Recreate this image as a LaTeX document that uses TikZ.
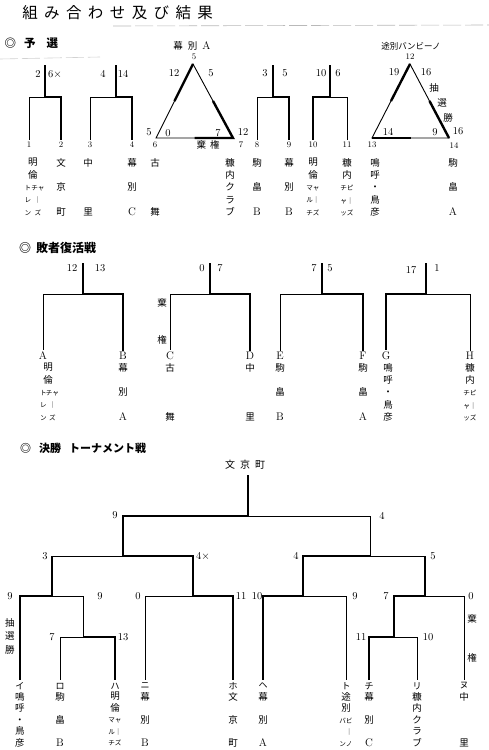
\documentclass[tikz,border=0pt]{standalone}
\usepackage{fontspec}
\usepackage{tikz}
\usetikzlibrary{calc}
\newfontfamily\jp{Noto Sans CJK JP}
\newcommand\kanafont{\jp\fontsize{6.6}{7}\selectfont}
\newcommand\kk[3][6.5pt]{\makebox[#1]{\kanafont #2}\makebox[#1]{\kanafont #3}}
\newcommand\lt[1]{{\rmfamily\fontsize{11}{12}\selectfont #1}}

\begin{document}
\begin{tikzpicture}[x=1pt, y=-1pt,
    lose/.style={line width=0.9pt},
    win/.style={line width=2.4pt},
    rule/.style={gray!55, line width=0.6pt, dash pattern=on 18pt off 4pt},
    titlechar/.style={inner sep=0pt, font=\jp\fontsize{15.5}{16}\selectfont},
    head/.style={inner sep=0pt, anchor=west, font=\jp\bfseries\fontsize{#1}{14}\selectfont},
    head/.default=11.5,
    score/.style={inner sep=0pt, font=\fontsize{10.5}{12}\selectfont},
    seed/.style={inner sep=2pt, font=\fontsize{8.5}{10}\selectfont},
    letter/.style={inner sep=1.5pt, font=\fontsize{11}{12}\selectfont},
    kana/.style={inner sep=2.5pt, font=\jp\fontsize{9}{10}\selectfont},
    jlabel/.style={inner sep=0pt, font=\jp\fontsize{9.5}{11}\selectfont},
    team/.style={inner sep=0pt, anchor=north, align=center, font=\jp\fontsize{9.5}{#1}\selectfont},
    team/.default=12.4
]
\fill[white] (0,0) rectangle (489,750);
\useasboundingbox (0,0) rectangle (489,750);

% Title
\foreach \ch [count=\i] in {組,み,合,わ,せ,及,び,結,果}
  \node[titlechar] (title\i) at ({30+(\i-1)*21.9},13) {\ch};
\draw[rule] (113,26) -- (489,25);
\draw[rule, gray!35] (0,59) -- (100,57);

% ---------------- Preliminary ----------------
\node[head] (hprelim) at (4.5,43) {◎\hspace{8pt}予\hspace{11pt}選};

% Seeds
\node[seed] (s1) at (29,145) {1};
\node[seed] (s2) at (61,145) {2};
\node[seed] (s3) at (90,145) {3};
\node[seed] (s4) at (132,145) {4};
\node[seed] (s8) at (257,145) {8};
\node[seed] (s9) at (289,145) {9};
\node[seed] (s10) at (313,145) {10};
\node[seed] (s11) at (347,145) {11};

% Brackets
\coordinate (q1) at (45,65);  \coordinate (q1j) at (45,97);
\draw[lose] (q1j) -| (s1.north);
\draw[win] (q1) -- (q1j) -| (s2.north);
\coordinate (q2) at (116,65); \coordinate (q2j) at (116,97);
\draw[lose] (q2j) -| (s3.north);
\draw[win] (q2) -- (q2j) -| (s4.north);
\coordinate (q3) at (273,65); \coordinate (q3j) at (273,97);
\draw[lose] (q3j) -| (s8.north);
\draw[win] (q3) -- (q3j) -| (s9.north);
\coordinate (q4) at (330,65); \coordinate (q4j) at (330,97);
\draw[lose] (q4j) -| (s11.north);
\draw[win] (q4) -- (q4j) -| (s10.north);

\node[score] (q1a) at (38,74) {2};
\node[score, anchor=west] (q1b) at (48,74) {6$\times$};
\node[score] (q2a) at (103,74) {4};
\node[score] (q2b) at (123,74) {14};
\node[score] (q3a) at (265,73) {3};
\node[score] (q3b) at (285,73) {5};
\node[score] (q4a) at (321,73) {10};
\node[score] (q4b) at (338,73) {6};

% Round robin A
\node[jlabel] (gA) at (192,46) {幕\hspace{5pt}別\hspace{5pt}\lt{A}};
\coordinate (v5) at (193,64); \coordinate (v6) at (156,138); \coordinate (v7) at (233,138);
\draw[lose] (v5) -- (v6) -- (v7) -- cycle;
\draw[win] (v5) -- ($(v5)!0.5!(v6)$);
\draw[win] ($(v5)!0.5!(v7)$) -- (v7) -- ($(v7)!0.5!(v6)$);
\node[seed] (s5) at (194,57) {5};
\node[seed] (s6) at (155,145) {6};
\node[seed] (s7) at (241,145) {7};
\node[score] (tA1) at (174,73) {12};
\node[score] (tA2) at (211,73) {5};
\node[score] (tA3) at (149,132) {5};
\node[score] (tA4) at (168,133) {0};
\node[score] (tA5) at (218,133) {7};
\node[score] (tA6) at (243,132) {12};
\node[jlabel] (forf6) at (208,145) {棄\hspace{4pt}権};

% Round robin B
\node[jlabel, font=\jp\fontsize{8.5}{10}\selectfont] (gB) at (411,46) {途別バンビーノ};
\coordinate (v12) at (410,64); \coordinate (v13) at (372,138); \coordinate (v14) at (449,138);
\draw[lose] (v12) -- (v13) -- (v14) -- cycle;
\draw[win] (v12) -- ($(v12)!0.5!(v13)$);
\draw[win] ($(v12)!0.5!(v14)$) -- (v14);
\draw[win] (v13) -- ($(v13)!0.5!(v14)$);
\node[seed] (s12) at (410,57) {12};
\node[seed] (s13) at (372,145) {13};
\node[seed] (s14) at (454,146) {14};
\node[score] (tB1) at (394,72) {19};
\node[score] (tB2) at (426,72) {16};
\node[score] (tB3) at (388,132) {14};
\node[score] (tB4) at (435,132) {9};
\node[score] (tB5) at (458,131) {16};
\node[jlabel] (lotB1) at (434,88) {抽};
\node[jlabel] (lotB2) at (442,103) {選};
\node[jlabel] (lotB3) at (448,118) {勝};

% Team names
\node[team] (m1) at (33,158) {明\\倫\\\kk[10pt]{ト}{チャ}\\\kk[10pt]{レ}{｜}\\\kk[10pt]{ン}{ズ}};
\node[team] (m2) at (61,158) {文\\[12.4pt]京\\[12.4pt]町};
\node[team] (m3) at (88,158) {中\\[37.2pt]里};
\node[team] (m4) at (132,158) {幕\\[12.4pt]別\\[12.4pt]\lt{C}};
\node[team] (m6) at (155,158) {古\\[37.2pt]舞};
\node[team] (m7) at (230,158) {糠\\内\\ク\\ラ\\ブ};
\node[team] (m8) at (257,158) {駒\\[12.4pt]畠\\[12.4pt]\lt{B}};
\node[team] (m9) at (289,158) {幕\\[12.4pt]別\\[12.4pt]\lt{B}};
\node[team] (m10) at (313,158) {明\\倫\\\kk{マ}{ャ}\\\kk{ル}{｜}\\\kk{チ}{ズ}};
\node[team] (m11) at (347,158) {糠\\内\\\kk{チ}{ピ}\\\kk{ャ}{｜}\\\kk{ッ}{ズ}};
\node[team] (m13) at (375,158) {鳴\\呼\\・\\鳥\\彦};
\node[team] (m14) at (453,158) {駒\\[12.4pt]畠\\[12.4pt]\lt{A}};

% ---------------- Repechage ----------------
\node[head=12] (hrepe) at (19,248) {◎\hspace{5pt}敗者復活戦};

\node[letter] (lA) at (43,356) {A};
\node[letter] (lB) at (123,356) {B};
\node[letter] (lC) at (170,356) {C};
\node[letter] (lD) at (250,356) {D};
\node[letter] (lE) at (280,356) {E};
\node[letter] (lF) at (363,356) {F};
\node[letter] (lG) at (386,356) {G};
\node[letter] (lH) at (470,356) {H};

\coordinate (r1) at (83,263);  \coordinate (r1j) at (83,294);
\draw[lose] (r1j) -| (lA.north);
\draw[win] (r1) -- (r1j) -| (lB.north);
\coordinate (r2) at (210,263); \coordinate (r2j) at (210,294);
\draw[lose] (r2j) -| (lC.north);
\draw[win] (r2) -- (r2j) -| (lD.north);
\coordinate (r3) at (322,263); \coordinate (r3j) at (322,294);
\draw[lose] (r3j) -| (lE.north);
\draw[win] (r3) -- (r3j) -| (lF.north);
\coordinate (r4) at (426,263); \coordinate (r4j) at (426,294);
\draw[lose] (r4j) -| (lH.north);
\draw[win] (r4) -- (r4j) -| (lG.north);

\node[score] (r1a) at (72,268) {12};
\node[score] (r1b) at (100,268) {13};
\node[score] (r2a) at (202,268) {0};
\node[score] (r2b) at (220,268) {7};
\node[score] (r3a) at (314,268) {7};
\node[score] (r3b) at (330,268) {5};
\node[score] (r4a) at (411,270) {17};
\node[score] (r4b) at (437,268) {1};
\node[jlabel] (forfC1) at (162,303) {棄};
\node[jlabel] (forfC2) at (162,340) {権};

\node[team] (nA) at (48,363) {明\\倫\\\kk[9pt]{ト}{チャ}\\\kk[9pt]{レ}{｜}\\\kk[9pt]{ン}{ズ}};
\node[team] (nB) at (123,363) {幕\\[12.4pt]別\\[12.4pt]\lt{A}};
\node[team] (nC) at (170,363) {古\\[37.2pt]舞};
\node[team] (nD) at (250,363) {中\\[37.2pt]里};
\node[team] (nE) at (280,363) {駒\\[12.4pt]畠\\[12.4pt]\lt{B}};
\node[team] (nF) at (363,363) {駒\\[12.4pt]畠\\[12.4pt]\lt{A}};
\node[team] (nG) at (388,363) {鳴\\呼\\・\\鳥\\彦};
\node[team] (nH) at (470,363) {糠\\内\\\kk{チ}{ピ}\\\kk{ャ}{｜}\\\kk{ッ}{ズ}};

% ---------------- Final tournament ----------------
\node[head=11] (hfinal) at (20,448) {◎\hspace{8pt}決勝\hspace{8pt}トーナメント戦};
\node[jlabel, font=\jp\fontsize{10}{12}\selectfont] (champ) at (245,465) {文\hspace{5pt}京\hspace{5pt}町};

\node[kana] (leafI) at (20,686) {イ};
\node[kana] (leafRo) at (60,686) {ロ};
\node[kana] (leafHa) at (115,686) {ハ};
\node[kana] (leafNi) at (145,686) {ニ};
\node[kana] (leafHo) at (233,686) {ホ};
\node[kana] (leafHe) at (263,686) {ヘ};
\node[kana] (leafTo) at (346,686) {ト};
\node[kana] (leafChi) at (369,686) {チ};
\node[kana] (leafRi) at (417,686) {リ};
\node[kana] (leafNu) at (464,686) {ヌ};

\coordinate (k0) at (248,475);
\coordinate (k1) at (248,516);
\coordinate (k2) at (123,556); \coordinate (k3) at (370,556);
\coordinate (k4) at (52,596);  \coordinate (k5) at (193,596);
\coordinate (k6) at (303,596); \coordinate (k7) at (425,596);
\coordinate (k8) at (83,637);  \coordinate (k9) at (394,637);

% upper rounds
\draw[lose] (k1) -| (k3);
\draw[win] (k0) -- (k1) -| (k2);
\draw[lose] (k2) -| (k4);
\draw[win] (k2) -| (k5);
\draw[win] (k2 -| k4) -- (k4);
\draw[lose] (k3) -| (k7);
\draw[win] (k3) -| (k6);
\draw[win] (k3 -| k7) -- (k7);
% lower rounds
\draw[lose] (k4) -| (k8);
\draw[win] (k4) -| (leafI.north);
\draw[lose] (k8) -| (leafRo.north);
\draw[win] (k8) -| (leafHa.north);
\draw[lose] (k5) -| (leafNi.north);
\draw[win] (k5) -| (leafHo.north);
\draw[lose] (k6) -| (leafTo.north);
\draw[win] (k6) -| (leafHe.north);
\draw[lose] (k7) -| (leafNu.north);
\draw[win] (k7) -| (k9);
\draw[lose] (k9) -| (leafRi.north);
\draw[win] (k9) -| (leafChi.north);

\node[score] (f1a) at (115,515) {9};
\node[score] (f1b) at (382,516) {4};
\node[score] (f2a) at (45,556) {3};
\node[score, anchor=west] (f2b) at (196,556) {4$\times$};
\node[score] (f3a) at (296,556) {4};
\node[score] (f3b) at (433,556) {5};
\node[score] (f4a) at (10,596) {9};
\node[score] (f4b) at (100,596) {9};
\node[score] (f5a) at (138,596) {0};
\node[score] (f5b) at (241,596) {11};
\node[score] (f6a) at (257,596) {10};
\node[score] (f6b) at (355,596) {9};
\node[score] (f7a) at (386,596) {7};
\node[score] (f7b) at (471,596) {0};
\node[score] (f8a) at (52,637) {7};
\node[score] (f8b) at (123,637) {13};
\node[score] (f9a) at (361,637) {11};
\node[score] (f9b) at (428,637) {10};
\node[team=13.5] (lotI) at (10,618) {抽\\選\\勝};
\node[jlabel] (forfNu1) at (472,619) {棄};
\node[jlabel] (forfNu2) at (472,658) {権};

\node[team=11.5] (nmI) at (20,692) {鳴\\呼\\・\\鳥\\彦};
\node[team=11.5] (nmRo) at (60,692) {駒\\[11.5pt]畠\\[11.5pt]\lt{B}};
\node[team=11.5] (nmHa) at (115,692) {明\\倫\\\kk{マ}{ャ}\\\kk{ル}{｜}\\\kk{チ}{ズ}};
\node[team=11.5] (nmNi) at (145,692) {幕\\[11.5pt]別\\[11.5pt]\lt{B}};
\node[team=11.5] (nmHo) at (233,692) {文\\[11.5pt]京\\[11.5pt]町};
\node[team=11.5] (nmHe) at (263,692) {幕\\[11.5pt]別\\[11.5pt]\lt{A}};
\node[team=11.5] (nmTo) at (346,692) {途\\別\\\kk{バ}{ビ}\\\kk{}{｜}\\\kk{ン}{ノ}};
\node[team=11.5] (nmChi) at (369,692) {幕\\[11.5pt]別\\[11.5pt]\lt{C}};
\node[team=11.5] (nmRi) at (417,692) {糠\\内\\ク\\ラ\\ブ};
\node[team=11.5] (nmNu) at (464,692) {中\\[34.5pt]里};

\end{tikzpicture}
\end{document}
